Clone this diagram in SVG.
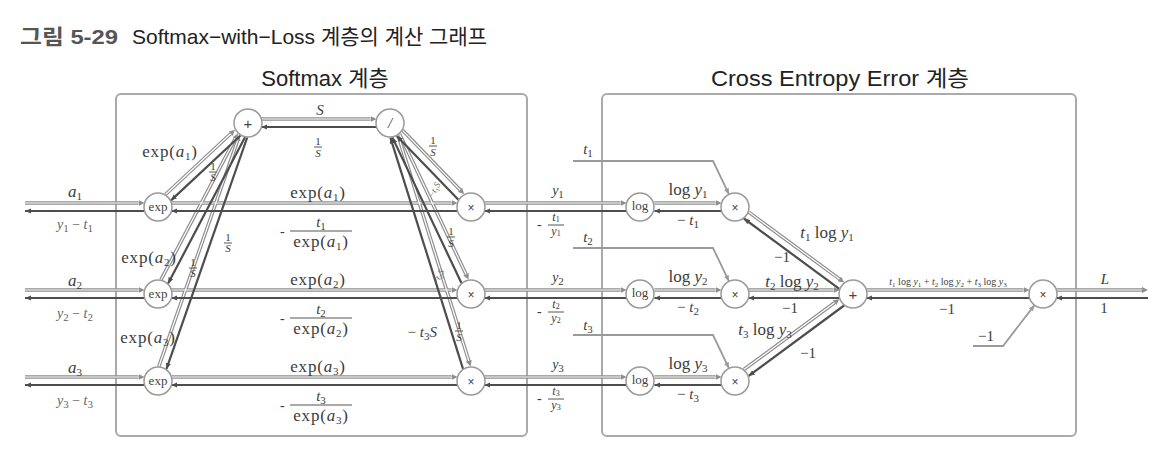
<svg xmlns="http://www.w3.org/2000/svg" width="1174" height="469" viewBox="0 0 1174 469">
<style>
.bg{fill:#fff}
.box{fill:none;stroke:#aaa;stroke-width:2}
.fw{fill:none;stroke:#8e8e8e;stroke-width:3.6;marker-end:url(#mf)}
.fwi{fill:none;stroke:#fff;stroke-width:1.2}
.bw{fill:none;stroke:#4d4d4d;stroke-width:2.2;marker-end:url(#mb)}
.inp{fill:none;stroke:#9a9a9a;stroke-width:1.8;marker-end:url(#mi)}
.nd{fill:#fff;stroke:#9a9a9a;stroke-width:1.5}
.nt{font-family:"Liberation Serif",serif;font-size:13px;fill:#444;text-anchor:middle}
.ns{font-family:"Liberation Sans",sans-serif;font-size:15px;fill:#444;text-anchor:middle}
.nx{font-family:"Liberation Sans",sans-serif;font-size:12px;fill:#444;text-anchor:middle}
.ttl{font-family:"Liberation Sans","Noto Sans CJK KR",sans-serif;font-size:22px;fill:#222}
.t21{font-size:21px}
.m{font-family:"Liberation Serif",serif;font-size:17px;fill:#3c3c3c}
.f15{font-size:15px}
.f14{font-size:14px}
.f12{font-size:12px}
.f9{font-size:9px}
.c{text-anchor:middle}
.e{text-anchor:end}
.i{font-style:italic}
.sb{font-size:11px}
.s{font-size:14px}
.xs{font-size:11px}
.lt{fill:#666}
.fr{stroke:#555;stroke-width:1}
.ls{letter-spacing:0.8px}
</style>
<defs>
<marker id="mf" viewBox="0 0 6 6" refX="0" refY="3" markerWidth="6" markerHeight="6" markerUnits="userSpaceOnUse" orient="auto"><path d="M0,0 L6,3 L0,6 z" fill="#8e8e8e"/></marker>
<marker id="mb" viewBox="0 0 6 5.2" refX="6" refY="2.6" markerWidth="6" markerHeight="5.2" markerUnits="userSpaceOnUse" orient="auto"><path d="M0,0 L6,2.6 L0,5.2 z" fill="#4d4d4d"/></marker>
<marker id="mi" viewBox="0 0 6 5.2" refX="6" refY="2.6" markerWidth="6" markerHeight="5.2" markerUnits="userSpaceOnUse" orient="auto"><path d="M0,0 L6,2.6 L0,5.2 z" fill="#9a9a9a"/></marker>
</defs>
<rect class="bg" x="0" y="0" width="1174" height="469"/>

<g id="titles">
<text class="ttl t21" x="20" y="44" font-weight="bold" style="fill:#555" textLength="98" lengthAdjust="spacingAndGlyphs">그림 5-29</text>
<text class="ttl t21" x="132" y="44" textLength="355" lengthAdjust="spacingAndGlyphs">Softmax−with−Loss 계층의 계산 그래프</text>
<text class="ttl" x="325" y="86" text-anchor="middle">Softmax 계층</text>
<text class="ttl" x="840" y="86" text-anchor="middle" textLength="258" lengthAdjust="spacingAndGlyphs">Cross Entropy Error 계층</text>
</g>

<g id="softmax-layer"><rect class="box" x="116" y="94" width="411" height="342" rx="5"/></g>
<g id="cee-layer"><rect class="box" x="602" y="94" width="474" height="342" rx="5"/></g>

<g id="connectors">
<g id="forward">
<path class="fw" d="M25,203H138.6"/>
<path class="fw" d="M25,290H138.6"/>
<path class="fw" d="M25,377H138.6"/>
<path class="fw" d="M171.4,203H451.6"/>
<path class="fw" d="M171.4,290H451.6"/>
<path class="fw" d="M171.4,377H451.6"/>
<path class="fw" d="M484.4,203H620.6"/>
<path class="fw" d="M484.4,290H620.6"/>
<path class="fw" d="M484.4,377H620.6"/>
<path class="fw" d="M654.4,203H715.6"/>
<path class="fw" d="M654.4,290H715.6"/>
<path class="fw" d="M654.4,377H715.6"/>
<path class="fw" d="M748.4,290H833.6"/>
<path class="fw" d="M866.4,290H1023.6"/>
<path class="fw" d="M1056.4,290H1142"/>
<path class="fw" d="M261.4,119H370.6"/>
<path class="fw" d="M165.5,194.5L230.6,133.8"/>
<path class="fw" d="M161,279.7L235.1,138.8"/>
<path class="fw" d="M158.8,366.5L237.6,140.6"/>
<path class="fw" d="M402.6,130.3L460,189.8"/>
<path class="fw" d="M399.6,134L466,274.2"/>
<path class="fw" d="M398,135.2L468.8,360.7"/>
<path class="fw" d="M748.7,212.1L839.3,278.9"/>
<path class="fw" d="M743.9,369.5L834.5,302.7"/>
<path class="fwi" d="M25,203H138.6M25,290H138.6M25,377H138.6M171.4,203H451.6M171.4,290H451.6M171.4,377H451.6M484.4,203H620.6M484.4,290H620.6M484.4,377H620.6M654.4,203H715.6M654.4,290H715.6M654.4,377H715.6M748.4,290H833.6M866.4,290H1023.6M1056.4,290H1142M261.4,119H370.6M165.5,194.5L230.6,133.8M161,279.7L235.1,138.8M158.8,366.5L237.6,140.6M402.6,130.3L460,189.8M399.6,134L466,274.2M398,135.2L468.8,360.7M748.7,212.1L839.3,278.9M743.9,369.5L834.5,302.7"/>
</g>
<g id="backward">
<path class="bw" d="M144.6,211H25"/>
<path class="bw" d="M144.6,298H25"/>
<path class="bw" d="M144.6,385H25"/>
<path class="bw" d="M457.6,211H171.4"/>
<path class="bw" d="M457.6,298H171.4"/>
<path class="bw" d="M457.6,385H171.4"/>
<path class="bw" d="M626.6,211H484.4"/>
<path class="bw" d="M626.6,298H484.4"/>
<path class="bw" d="M626.6,385H484.4"/>
<path class="bw" d="M721.6,211H654.4"/>
<path class="bw" d="M721.6,298H654.4"/>
<path class="bw" d="M721.6,385H654.4"/>
<path class="bw" d="M839.6,298H748.4"/>
<path class="bw" d="M1029.6,298H866.4"/>
<path class="bw" d="M1148,298H1056.4"/>
<path class="bw" d="M376.6,127H261.4"/>
<path class="bw" d="M240.5,135.5L171,200.4"/>
<path class="bw" d="M245,137.3L168.1,283.5"/>
<path class="bw" d="M247.2,137.5L166.4,369.1"/>
<path class="bw" d="M458.4,199.7L396.8,135.9"/>
<path class="bw" d="M461.4,283L392.4,137.4"/>
<path class="bw" d="M463,368.8L390.4,137.6"/>
<path class="bw" d="M839.3,288.9L743.9,218.5"/>
<path class="bw" d="M844.1,305.5L748.7,375.9"/>
</g>
<g id="inputs">
<path class="inp" d="M573,161H713L729,194.4"/>
<path class="inp" d="M573,248H713L729,281.4"/>
<path class="inp" d="M573,335H713L729,368.4"/>
<path class="inp" d="M973,346H1003L1034.5,305.1"/>
</g>
</g>

<g id="nodes">
<g id="n-sum"><circle class="nd" cx="248" cy="123" r="14"/><text class="ns" x="248" y="128.5">+</text></g>
<g id="n-div"><circle class="nd" cx="390" cy="123" r="14"/><text class="nt i f15" x="390" y="128">/</text></g>
<g id="n-exp1"><circle class="nd" cx="158" cy="207" r="14"/><text class="nt" x="158" y="211">exp</text></g>
<g id="n-exp2"><circle class="nd" cx="158" cy="294" r="14"/><text class="nt" x="158" y="298">exp</text></g>
<g id="n-exp3"><circle class="nd" cx="158" cy="381" r="14"/><text class="nt" x="158" y="385">exp</text></g>
<g id="n-mul1"><circle class="nd" cx="471" cy="207" r="14"/><text class="nx" x="471" y="211.5">×</text></g>
<g id="n-mul2"><circle class="nd" cx="471" cy="294" r="14"/><text class="nx" x="471" y="298.5">×</text></g>
<g id="n-mul3"><circle class="nd" cx="471" cy="381" r="14"/><text class="nx" x="471" y="385.5">×</text></g>
<g id="n-log1"><circle class="nd" cx="640" cy="207" r="14"/><text class="nt" x="640" y="210">log</text></g>
<g id="n-log2"><circle class="nd" cx="640" cy="294" r="14"/><text class="nt" x="640" y="297">log</text></g>
<g id="n-log3"><circle class="nd" cx="640" cy="381" r="14"/><text class="nt" x="640" y="384">log</text></g>
<g id="n-cmul1"><circle class="nd" cx="735" cy="207" r="14"/><text class="nx" x="735" y="211.5">×</text></g>
<g id="n-cmul2"><circle class="nd" cx="735" cy="294" r="14"/><text class="nx" x="735" y="298.5">×</text></g>
<g id="n-cmul3"><circle class="nd" cx="735" cy="381" r="14"/><text class="nx" x="735" y="385.5">×</text></g>
<g id="n-csum"><circle class="nd" cx="853" cy="294" r="14"/><text class="ns" x="853" y="299.5">+</text></g>
<g id="n-neg"><circle class="nd" cx="1043" cy="294" r="14"/><text class="nx" x="1043" y="298.5">×</text></g>
</g>

<g id="labels">
<text class="m c" x="75" y="197"><tspan class="i">a</tspan><tspan class="sb" dy="3">1</tspan></text>
<text class="m c" x="75" y="286"><tspan class="i">a</tspan><tspan class="sb" dy="3">2</tspan></text>
<text class="m c" x="75" y="373"><tspan class="i">a</tspan><tspan class="sb" dy="3">3</tspan></text>
<text class="m c s lt" x="75" y="229"><tspan class="i">y</tspan><tspan class="sb" dy="3">1</tspan><tspan dy="-3"> − </tspan><tspan class="i">t</tspan><tspan class="sb" dy="3">1</tspan></text>
<text class="m c s lt" x="75" y="318"><tspan class="i">y</tspan><tspan class="sb" dy="3">2</tspan><tspan dy="-3"> − </tspan><tspan class="i">t</tspan><tspan class="sb" dy="3">2</tspan></text>
<text class="m c s lt" x="75" y="405"><tspan class="i">y</tspan><tspan class="sb" dy="3">3</tspan><tspan dy="-3"> − </tspan><tspan class="i">t</tspan><tspan class="sb" dy="3">3</tspan></text>
<text class="m c ls" x="170" y="157">exp(<tspan class="i">a</tspan><tspan class="sb" dy="3">1</tspan><tspan dy="-3">)</tspan></text>
<text class="m c ls" x="149" y="263">exp(<tspan class="i">a</tspan><tspan class="sb" dy="3">2</tspan><tspan dy="-3">)</tspan></text>
<text class="m c ls" x="148" y="343">exp(<tspan class="i">a</tspan><tspan class="sb" dy="3">3</tspan><tspan dy="-3">)</tspan></text>
<text class="m c xs" x="213" y="170">1</text><line class="fr" x1="209" y1="172" x2="217" y2="172"/><text class="m c xs i" x="213" y="181">S</text>
<text class="m c xs" x="228" y="241">1</text><line class="fr" x1="224" y1="243" x2="232" y2="243"/><text class="m c xs i" x="228" y="252">S</text>
<text class="m c xs" x="193" y="266">1</text><line class="fr" x1="189" y1="268" x2="197" y2="268"/><text class="m c xs i" x="193" y="277">S</text>
<text class="m c i f15" x="320" y="115">S</text>
<text class="m c xs" x="318" y="145">1</text><line class="fr" x1="314" y1="147" x2="322" y2="147"/><text class="m c xs i" x="318" y="157">S</text>
<text class="m c xs" x="433" y="144">1</text><line class="fr" x1="429" y1="146" x2="437" y2="146"/><text class="m c xs i" x="433" y="156">S</text>
<text class="m c xs" x="451" y="235">1</text><line class="fr" x1="447" y1="237" x2="455" y2="237"/><text class="m c xs i" x="451" y="247">S</text>
<text class="m c xs" x="459" y="329">1</text><line class="fr" x1="455" y1="331" x2="463" y2="331"/><text class="m c xs i" x="459" y="341">S</text>
<text class="m e f15" x="437" y="337">− <tspan class="i">t</tspan><tspan class="sb" dy="3">3</tspan><tspan class="i" dy="-3">S</tspan></text>
<text class="m c lt f9" transform="translate(437,191) rotate(-62)">−<tspan class="i">t</tspan><tspan font-size="6" dy="2">1</tspan><tspan class="i" dy="-2">S</tspan></text>
<text class="m c lt f9" transform="translate(441,278) rotate(-62)">−<tspan class="i">t</tspan><tspan font-size="6" dy="2">2</tspan><tspan class="i" dy="-2">S</tspan></text>
<text class="m c ls" x="318" y="198">exp(<tspan class="i">a</tspan><tspan class="sb" dy="3">1</tspan><tspan dy="-3">)</tspan></text>
<text class="m f14" x="280" y="236">-</text>
<text class="m c i f15" x="321" y="227">t<tspan class="sb" font-style="normal" dy="3">1</tspan></text>
<line class="fr" x1="290" y1="231" x2="352" y2="231"/>
<text class="m c ls" x="321" y="247">exp(<tspan class="i">a</tspan><tspan class="sb" dy="3">1</tspan><tspan dy="-3">)</tspan></text>
<text class="m c ls" x="318" y="285">exp(<tspan class="i">a</tspan><tspan class="sb" dy="3">2</tspan><tspan dy="-3">)</tspan></text>
<text class="m f14" x="280" y="323">-</text>
<text class="m c i f15" x="321" y="314">t<tspan class="sb" font-style="normal" dy="3">2</tspan></text>
<line class="fr" x1="290" y1="318" x2="352" y2="318"/>
<text class="m c ls" x="321" y="334">exp(<tspan class="i">a</tspan><tspan class="sb" dy="3">2</tspan><tspan dy="-3">)</tspan></text>
<text class="m c ls" x="318" y="372">exp(<tspan class="i">a</tspan><tspan class="sb" dy="3">3</tspan><tspan dy="-3">)</tspan></text>
<text class="m f14" x="280" y="410">-</text>
<text class="m c i f15" x="321" y="401">t<tspan class="sb" font-style="normal" dy="3">3</tspan></text>
<line class="fr" x1="290" y1="405" x2="352" y2="405"/>
<text class="m c ls" x="321" y="421">exp(<tspan class="i">a</tspan><tspan class="sb" dy="3">3</tspan><tspan dy="-3">)</tspan></text>
<text class="m c i s" x="558" y="195">y<tspan class="sb" font-style="normal" dy="3">1</tspan></text>
<text class="m s" x="537" y="229">-</text>
<text class="m c i f12" x="556" y="221">t<tspan font-size="8" font-style="normal" dy="1">1</tspan></text>
<line class="fr" x1="548" y1="225" x2="564" y2="225"/>
<text class="m c i f12" x="556" y="235">y<tspan font-size="8" font-style="normal" dy="1">1</tspan></text>
<text class="m c i s" x="558" y="282">y<tspan class="sb" font-style="normal" dy="3">2</tspan></text>
<text class="m s" x="537" y="316">-</text>
<text class="m c i f12" x="556" y="308">t<tspan font-size="8" font-style="normal" dy="1">2</tspan></text>
<line class="fr" x1="548" y1="312" x2="564" y2="312"/>
<text class="m c i f12" x="556" y="322">y<tspan font-size="8" font-style="normal" dy="1">2</tspan></text>
<text class="m c i s" x="558" y="369">y<tspan class="sb" font-style="normal" dy="3">3</tspan></text>
<text class="m s" x="537" y="403">-</text>
<text class="m c i f12" x="556" y="395">t<tspan font-size="8" font-style="normal" dy="1">3</tspan></text>
<line class="fr" x1="548" y1="399" x2="564" y2="399"/>
<text class="m c i f12" x="556" y="409">y<tspan font-size="8" font-style="normal" dy="1">3</tspan></text>
<text class="m c i f15" x="588" y="154">t<tspan class="sb" font-style="normal" dy="3">1</tspan></text>
<text class="m c i f15" x="588" y="242">t<tspan class="sb" font-style="normal" dy="3">2</tspan></text>
<text class="m c i f15" x="588" y="330">t<tspan class="sb" font-style="normal" dy="3">3</tspan></text>
<text class="m c" x="688" y="195">log <tspan class="i">y</tspan><tspan class="sb" dy="3">1</tspan></text>
<text class="m c f15" x="688" y="225">− <tspan class="i">t</tspan><tspan class="sb" dy="3">1</tspan></text>
<text class="m c" x="688" y="282">log <tspan class="i">y</tspan><tspan class="sb" dy="3">2</tspan></text>
<text class="m c f15" x="688" y="312">− <tspan class="i">t</tspan><tspan class="sb" dy="3">2</tspan></text>
<text class="m c" x="688" y="369">log <tspan class="i">y</tspan><tspan class="sb" dy="3">3</tspan></text>
<text class="m c f15" x="688" y="399">− <tspan class="i">t</tspan><tspan class="sb" dy="3">3</tspan></text>
<text class="m c" x="827" y="238"><tspan class="i">t</tspan><tspan class="sb" dy="3">1</tspan><tspan dy="-3"> log </tspan><tspan class="i">y</tspan><tspan class="sb" dy="3">1</tspan></text>
<text class="m c f15" x="782" y="262">−1</text>
<text class="m c" x="792" y="287"><tspan class="i">t</tspan><tspan class="sb" dy="3">2</tspan><tspan dy="-3"> log </tspan><tspan class="i">y</tspan><tspan class="sb" dy="3">2</tspan></text>
<text class="m c f15" x="790" y="313">−1</text>
<text class="m c" x="765" y="335"><tspan class="i">t</tspan><tspan class="sb" dy="3">3</tspan><tspan dy="-3"> log </tspan><tspan class="i">y</tspan><tspan class="sb" dy="3">3</tspan></text>
<text class="m c f15" x="808" y="358">−1</text>
<text class="m c" x="948" y="285" style="font-size:10px"><tspan class="i">t</tspan><tspan font-size="7" dy="2">1</tspan><tspan dy="-2"> log </tspan><tspan class="i">y</tspan><tspan font-size="7" dy="2">1</tspan><tspan dy="-2"> + </tspan><tspan class="i">t</tspan><tspan font-size="7" dy="2">2</tspan><tspan dy="-2"> log </tspan><tspan class="i">y</tspan><tspan font-size="7" dy="2">2</tspan><tspan dy="-2"> + </tspan><tspan class="i">t</tspan><tspan font-size="7" dy="2">3</tspan><tspan dy="-2"> log </tspan><tspan class="i">y</tspan><tspan font-size="7" dy="2">3</tspan></text>
<text class="m c f15" x="947" y="314">−1</text>
<text class="m c i f15" x="1105" y="284">L</text>
<text class="m c f15" x="1104" y="313">1</text>
<text class="m c f15" x="986" y="341">−1</text>
</g>
</svg>
